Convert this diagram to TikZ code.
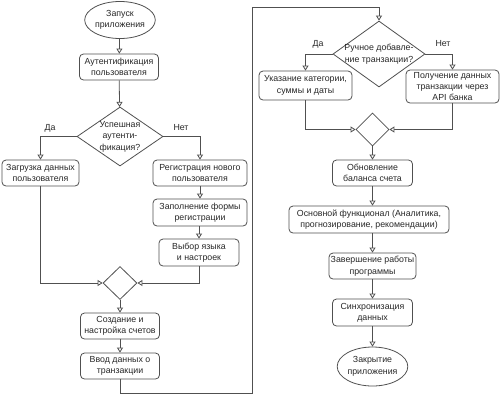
\documentclass[tikz,border=0pt]{standalone}
\usepackage{fontspec}
\setmainfont{Liberation Sans}
\usetikzlibrary{shapes.geometric,arrows.meta}
\definecolor{ln}{RGB}{80,80,80}
\definecolor{tx}{RGB}{40,40,40}
\tikzset{
  box/.style={draw=ln, line width=0.8pt, rounded corners=4pt, fill=white, inner sep=0pt, align=center, text=tx, font=\fontsize{8.8}{11.4}\selectfont},
  term/.style={draw=ln, line width=0.8pt, ellipse, fill=white, inner sep=0pt, align=center, text=tx, font=\fontsize{8.8}{11.4}\selectfont},
  dia/.style={draw=ln, line width=0.8pt, diamond, fill=white, inner sep=0pt},
  dtext/.style={inner sep=0pt, align=center, text=tx, font=\fontsize{8.8}{11.4}\selectfont},
  lbl/.style={inner sep=0pt, text=tx, font=\fontsize{8.8}{11.4}\selectfont},
  conn/.style={draw=ln, line width=0.8pt, -{Triangle[open, length=5pt, width=6pt, fill=white]}},
}
\begin{document}
\begin{tikzpicture}[x=1pt, y=-1pt]
\useasboundingbox (0,0) rectangle (500,400);
% left column
\node[term, minimum width=67pt, minimum height=37pt] (start) at (120,20) {Запуск\\приложения};
\node[box, minimum width=79pt, minimum height=26pt] (auth) at (119,67) {Аутентификация\\пользователя};
\node[dia, minimum width=86pt, minimum height=59pt] (d1) at (120,136.5) {};
\node[dtext] (d1t) at (120,136.5) {Успешная\\аутенти-\\фикация?};
\node[lbl] (yes1) at (50,128) {Да};
\node[lbl] (no1) at (181,128) {Нет};
\node[box, minimum width=77pt, minimum height=26pt] (load) at (40.5,173) {Загрузка данных\\пользователя};
\node[box, minimum width=94pt, minimum height=26pt] (reg) at (200,173) {Регистрация нового\\пользователя};
\node[box, minimum width=94pt, minimum height=27pt] (form) at (200,212.5) {Заполнение формы\\регистрации};
\node[box, minimum width=80pt, minimum height=27pt] (lang) at (199,252.5) {Выбор языка\\и настроек};
\node[dia, minimum width=34pt, minimum height=33pt] (m1) at (120,283) {};
\node[box, minimum width=79pt, minimum height=26pt] (create) at (120,326) {Создание и\\настройка счетов};
\node[box, minimum width=79pt, minimum height=26pt] (input) at (120,366) {Ввод данных о\\транзакции};
\coordinate (c1) at (252.5,393);
\coordinate (c2) at (252.5,7);
% right column
\node[dia, minimum width=92pt, minimum height=66pt] (d2) at (379,54) {};
\node[dtext] (d2t) at (379,54) {Ручное добавле-\\ние транзакции?};
\node[lbl] (yes2) at (318,44) {Да};
\node[lbl] (no2) at (443,44) {Нет};
\node[box, minimum width=93pt, minimum height=29pt] (manual) at (305.5,85.5) {Указание категории,\\суммы и даты};
\node[box, minimum width=93pt, minimum height=33pt] (api) at (452.5,86.5) {Получение данных\\транзакции через\\API банка};
\node[dia, minimum width=33pt, minimum height=33pt] (m2) at (372.5,129.5) {};
\node[box, minimum width=80pt, minimum height=26pt] (upd) at (372.5,173) {Обновление\\баланса счета};
\node[box, minimum width=160pt, minimum height=27pt] (core) at (369,219.5) {Основной функционал (Аналитика,\\прогнозирование, рекомендации)};
\node[box, minimum width=87pt, minimum height=26pt] (fin) at (372.5,266) {Завершение работы\\программы};
\node[box, minimum width=80pt, minimum height=27pt] (sync) at (372.5,312.5) {Синхронизация\\данных};
\node[term, minimum width=67pt, minimum height=39pt] (end) at (372.5,366.5) {Закрытие\\приложения};
% connectors left
\draw[conn] (start) -- (auth);
\draw[conn] (auth) -- (d1);
\draw[conn] (d1.west) -| (load.north);
\draw[conn] (d1.east) -| (reg.north);
\draw[conn] (reg.south) -- (reg.south |- form.north);
\draw[conn] (lang.north |- form.south) -- (lang.north);
\draw[conn] (load.south) |- (m1.west);
\draw[conn] (lang.south) |- (m1.east);
\draw[conn] (m1) -- (create);
\draw[conn] (create) -- (input);
\draw[conn] (input.south) |- (c1) -- (c2) -| (d2.north);
% connectors right
\draw[conn] (d2.west) -| (manual.north);
\draw[conn] (d2.east) -| (api.north);
\draw[conn] (manual.south) |- (m2.west);
\draw[conn] (api.south) |- (m2.east);
\draw[conn] (m2) -- (upd);
\draw[conn] (upd.south) -- (upd.south |- core.north);
\draw[conn] (fin.north |- core.south) -- (fin.north);
\draw[conn] (fin) -- (sync);
\draw[conn] (sync) -- (end);
\end{tikzpicture}
\end{document}
